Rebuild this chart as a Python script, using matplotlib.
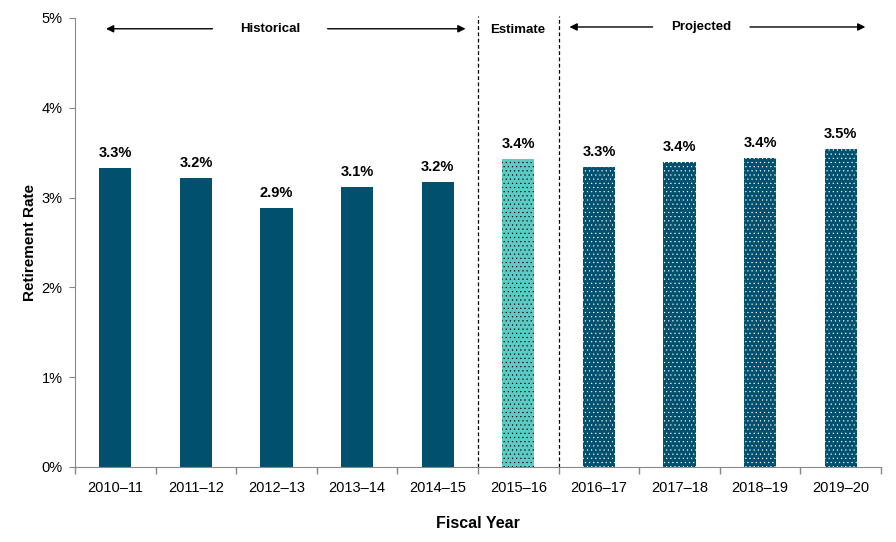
import matplotlib.pyplot as plt
import numpy as np

plt.rcParams['font.family'] = ['Liberation Sans', 'DejaVu Sans']
plt.rcParams['hatch.linewidth'] = 0.35

# Data
years = ['2010–11', '2011–12', '2012–13', '2013–14', '2014–15',
         '2015–16', '2016–17', '2017–18', '2018–19', '2019–20']
rates = [3.33, 3.22, 2.88, 3.12, 3.17, 3.43, 3.34, 3.40, 3.44, 3.54]
kinds = ['hist'] * 5 + ['est'] + ['proj'] * 4
period_labels = ['Historical', 'Estimate', 'Projected']

DARK = '#00506e'
LIGHT = '#5ccbc4'

fig = plt.figure(figsize=(8.96, 5.42), dpi=100)
ax = fig.add_axes([0.0837, 0.1384, 0.8996, 0.8284])

x = np.arange(len(years))
for xi, r, k in zip(x, rates, kinds):
    if k == 'hist':
        ax.bar(xi, r, 0.4, color=DARK, linewidth=0)
    elif k == 'est':
        ax.bar(xi, r, 0.4, facecolor=LIGHT, edgecolor='black', hatch='....', linewidth=0)
    else:
        ax.bar(xi, r, 0.4, facecolor=DARK, edgecolor='white', hatch='....', linewidth=0)
    ax.text(xi, r + 0.09, f'{r:.1f}%', ha='center', va='bottom',
            fontsize=10.5, fontweight='bold', color='black')

ax.set_xlim(-0.5, len(years) - 0.5)
ax.set_ylim(0, 5)
ax.set_yticks(np.arange(0, 6))
ax.set_yticklabels([f'{v}%' for v in range(6)])
ax.set_xticks(x)
ax.set_xticklabels(years)
ax.set_xticks(np.arange(-0.5, len(years)), minor=True)
ax.tick_params(axis='x', which='major', length=0, pad=10, labelsize=10.5)
ax.tick_params(axis='x', which='minor', length=5, color='#888888', width=1)
ax.tick_params(axis='y', length=4, color='#888888', labelsize=10.5, pad=5)

for s in ['top', 'right']:
    ax.spines[s].set_visible(False)
for s in ['left', 'bottom']:
    ax.spines[s].set_color('#888888')

ax.set_ylabel('Retirement Rate', fontsize=11, fontweight='bold', labelpad=3)
ax.set_xlabel('Fiscal Year', fontsize=11.5, fontweight='bold', labelpad=15)

# period separators
for xv in [4.5, 5.5]:
    ax.plot([xv, xv], [0, 5.02], color='black', linestyle=(0, (3, 2)),
            linewidth=0.9, clip_on=False)

arr = dict(arrowstyle='-|>', color='black', lw=1.0, mutation_scale=11)
ax.annotate('', xy=(-0.15, 4.88), xytext=(1.24, 4.88), arrowprops=arr)
ax.annotate('', xy=(4.38, 4.88), xytext=(2.60, 4.88), arrowprops=arr)
ax.text(1.92, 4.88, period_labels[0], ha='center', va='center', fontsize=9.5, fontweight='bold')
ax.text(4.99, 4.87, period_labels[1], ha='center', va='center', fontsize=9.5, fontweight='bold')
ax.annotate('', xy=(5.60, 4.90), xytext=(6.70, 4.90), arrowprops=arr)
ax.annotate('', xy=(9.34, 4.90), xytext=(7.84, 4.90), arrowprops=arr)
ax.text(7.27, 4.90, period_labels[2], ha='center', va='center', fontsize=9.5, fontweight='bold')

fig.savefig('out.png', dpi=100)
